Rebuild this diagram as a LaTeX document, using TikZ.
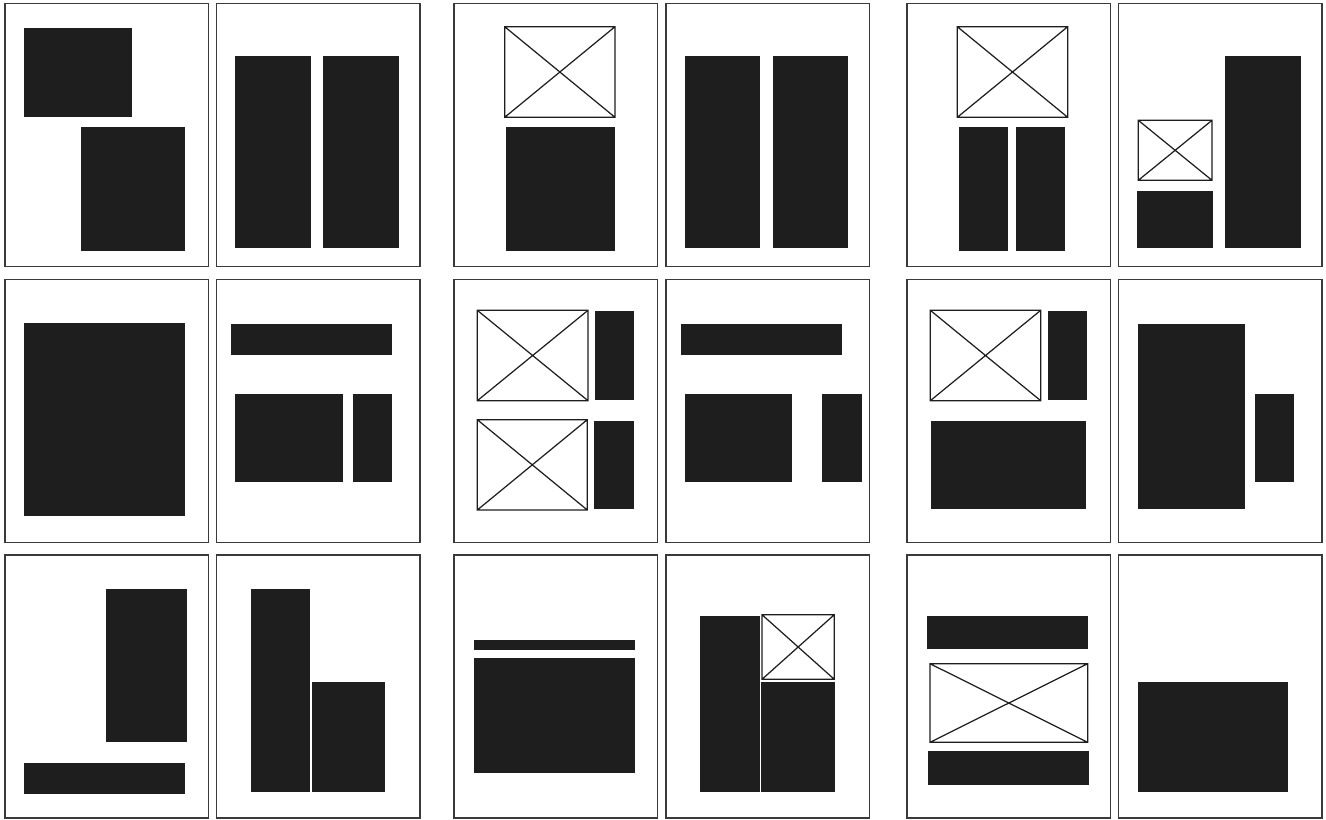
\documentclass[tikz,border=0pt]{standalone}
\usepackage{tikz}
\definecolor{cInk}{HTML}{1E1E1E}
\definecolor{cFrame}{HTML}{3A3A3A}
\tikzset{
	page/.style={draw=cFrame, line width=0.85pt, fill=white},
	blk/.style={fill=cInk},
	img/.style={draw=cInk, line width=0.7pt},
}
% crossed placeholder box: x1,y1,x2,y2
\newcommand{\imgbox}[4]{\draw[img] (#1,#2) rectangle (#3,#4) (#1,#2) -- (#3,#4) (#1,#4) -- (#3,#2);}

\begin{document}
\begin{tikzpicture}[x=0.02cm, y=-0.02cm]
	\useasboundingbox[fill=white] (0,0) rectangle (1326,819);
	% page frames
	\foreach \px in {5,216.5,454,666,907,1118.5}
		\foreach \py in {3.5,279.5,555}
			\draw[page] (\px,\py) rectangle ++(203.5,263);
	% row 1
	\fill[blk] (24.3,28) rectangle (132.3,116.7);
	\fill[blk] (80.7,127.3) rectangle (185.3,251.3);
	\fill[blk] (235.3,56.3) rectangle (311,248.3);
	\fill[blk] (323.3,56.3) rectangle (398.7,248.3);
	\imgbox{504.7}{26.7}{615}{117.3}
	\fill[blk] (506,127.3) rectangle (615.3,251.3);
	\fill[blk] (684.7,56.3) rectangle (760.3,248.3);
	\fill[blk] (772.7,56.3) rectangle (848.3,248.3);
	\imgbox{957.3}{26.7}{1067.7}{117.3}
	\fill[blk] (958.7,127.3) rectangle (1008,251.3);
	\fill[blk] (1015.7,127.3) rectangle (1065,251.3);
	\imgbox{1138.3}{120.3}{1212}{180.3}
	\fill[blk] (1137.3,190.7) rectangle (1213,248.3);
	\fill[blk] (1225.3,56.3) rectangle (1301,248.3);
	% row 2
	\fill[blk] (24.3,323.3) rectangle (185.3,516.3);
	\fill[blk] (231,323.7) rectangle (392.3,354.7);
	\fill[blk] (235.3,394) rectangle (343,482.3);
	\fill[blk] (352.7,394) rectangle (392.3,482.3);
	\imgbox{477.3}{310.3}{588}{400.7}
	\fill[blk] (595,311.3) rectangle (634.3,399.7);
	\imgbox{477.3}{419.7}{587.3}{510}
	\fill[blk] (594.3,420.7) rectangle (633.7,509.3);
	\fill[blk] (680.7,323.7) rectangle (841.7,354.7);
	\fill[blk] (684.7,394) rectangle (792.3,482.3);
	\fill[blk] (822.3,394) rectangle (861.7,482.3);
	\imgbox{930.3}{310.3}{1040.7}{400.7}
	\fill[blk] (1048,311.3) rectangle (1087,399.7);
	\fill[blk] (931.3,420.7) rectangle (1086.3,509.3);
	\fill[blk] (1137.7,323.7) rectangle (1245.3,509.3);
	\fill[blk] (1255,394) rectangle (1294.3,482.3);
	% row 3
	\fill[blk] (105.7,588.7) rectangle (187.3,742.3);
	\fill[blk] (24.3,762.7) rectangle (185.3,794);
	\fill[blk] (250.7,588.7) rectangle (310.3,792);
	\fill[blk] (312,682) rectangle (385.3,792);
	\fill[blk] (473.7,639.7) rectangle (635,649.7);
	\fill[blk] (473.7,657.7) rectangle (635,773);
	\fill[blk] (700.3,616) rectangle (760,792);
	\imgbox{762}{614.7}{834.3}{679.3}
	\fill[blk] (761.3,682) rectangle (834.7,792);
	\fill[blk] (926.7,616) rectangle (1087.7,649.3);
	\imgbox{930}{663.7}{1087.7}{742.3}
	\fill[blk] (928.3,751) rectangle (1089.3,784.7);
	\fill[blk] (1137.7,682) rectangle (1287.7,792);
\end{tikzpicture}
\end{document}
